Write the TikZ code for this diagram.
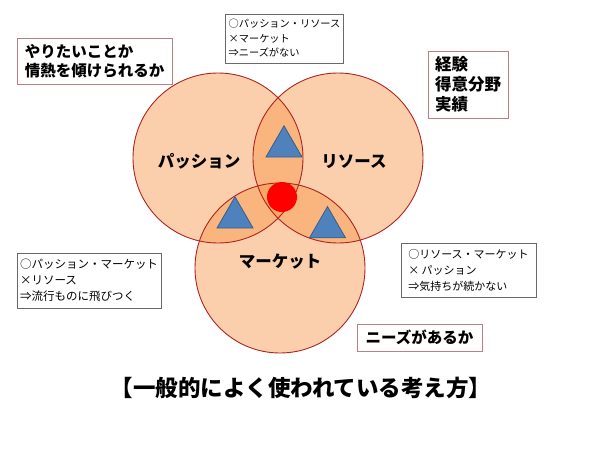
\documentclass[tikz,border=0pt]{standalone}
\usepackage{fontspec}
\setmainfont{Noto Sans CJK JP}
\usetikzlibrary{shapes.geometric}
\definecolor{vfill}{RGB}{247,150,70}
\definecolor{vedge}{RGB}{175,35,35}
\definecolor{tfill}{RGB}{79,129,189}
\definecolor{tedge}{RGB}{56,93,138}
\definecolor{pinkb}{RGB}{190,125,135}
\definecolor{grayb}{RGB}{105,105,105}
\tikzset{
  vcirc/.style={circle, minimum size=170pt, inner sep=0pt, fill=vfill, fill opacity=0.45, draw=none},
  vring/.style={circle, minimum size=170pt, inner sep=0pt, draw=vedge, line width=0.9pt},
  tri/.style={regular polygon, regular polygon sides=3, minimum size=41.6pt, inner sep=0pt, fill=tfill, draw=tedge, line width=0.8pt},
  dot/.style={circle, minimum size=30pt, inner sep=0pt, fill=red},
  clabel/.style={font=\bfseries\fontsize{16.5}{20}\selectfont},
  bigbox/.style={draw=pinkb, line width=0.9pt, fill=white, align=left, inner sep=0pt, font=\bfseries\fontsize{15.5}{19.5}\selectfont},
  smallbox/.style={draw=grayb, line width=0.9pt, fill=white, align=left, inner sep=0pt, font=\fontsize{10.2}{14.5}\selectfont},
}
\begin{document}
\begin{tikzpicture}[x=1pt,y=-1pt]
\useasboundingbox (0,0) rectangle (600,450);
\fill[white] (0,0) rectangle (600,450);
% circles
\node[vcirc] (cp) at (218,158) {};
\node[vcirc] (cr) at (338,158) {};
\node[vcirc] (cm) at (280,268) {};
\node[vring] (rp) at (218,158) {};
\node[vring] (rr) at (338,158) {};
\node[vring] (rm) at (280,268) {};
% triangles and dot
\node[tri] (t1) at (284,146.6) {};
\node[tri] (t2) at (235,217.6) {};
\node[tri] (t3) at (327.5,227.4) {};
\node[dot] (center) at (282,197) {};
% circle labels
\node[clabel] (lp) at (199,161) {パッション};
\node[clabel] (lr) at (354,162) {リソース};
\node[clabel] (lm) at (280,262) {マーケット};
% boxes
\node[bigbox, minimum width=155pt, minimum height=46pt] (b1) at (94.5,61) {やりたいことか\\情熱を傾けられるか};
\node[smallbox, minimum width=118pt, minimum height=49pt] (b2) at (284.5,38.5) {○パッション・リソース\\×マーケット\\⇒ニーズがない};
\node[bigbox, minimum width=80pt, minimum height=67pt, font=\bfseries\fontsize{16.5}{20}\selectfont] (b3) at (468,84.5) {経験\\得意分野\\実績};
\node[smallbox, minimum width=144pt, minimum height=55pt, font=\fontsize{11.5}{16}\selectfont] (b4) at (89,280.5) {○パッション・マーケット\\×リソース\\⇒流行ものに飛びつく};
\node[smallbox, minimum width=135pt, minimum height=54pt, font=\fontsize{11}{16}\selectfont] (b5) at (468.5,270) {○リソース・マーケット\\× パッション\\⇒気持ちが続かない};
\node[bigbox, minimum width=125pt, minimum height=27pt] (b6) at (419.5,337.5) {ニーズがあるか};
% title
\node[font=\bfseries\fontsize{22.5}{26}\selectfont] (title) at (301,388) {【一般的によく使われている考え方】};
\end{tikzpicture}
\end{document}
